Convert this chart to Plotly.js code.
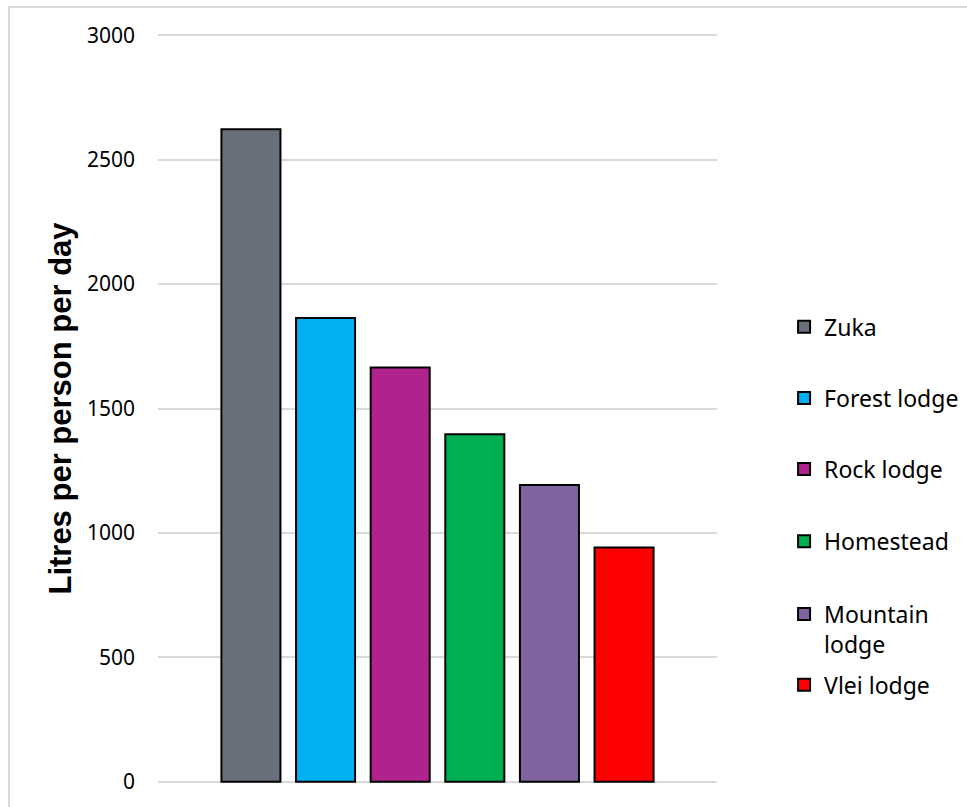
<!DOCTYPE html>
<html>
<head>
<meta charset="utf-8">
<script src="https://cdn.plot.ly/plotly-3.0.1.min.js"></script>
<style>
  html, body { margin: 0; padding: 0; background: #ffffff; overflow: hidden; }
  #wrap { position: relative; width: 967px; height: 807px; }
  #chart { position: absolute; left: 0; top: 0; width: 967px; height: 807px; }
  /* light frame around the chart area */
  #frame { position: absolute; left: 8px; top: 6px; width: 1000px; height: 1000px;
           border: 2px solid #d9d9d9; pointer-events: none; }
</style>
</head>
<body>
<div id="wrap">
  <div id="chart"></div>
  <div id="frame"></div>
</div>
<script>
// Daily water use per person at each lodge
const lodges = ['Zuka', 'Forest lodge', 'Rock lodge', 'Homestead', 'Mountain lodge', 'Vlei lodge'];
const legendLabels = ['Zuka', 'Forest lodge', 'Rock lodge', 'Homestead', 'Mountain<br>lodge', 'Vlei lodge'];
const litresPerPersonPerDay = [2622, 1864, 1665, 1397, 1193, 941];
const barColors = ['#6a707b', '#00b0f0', '#b0238f', '#00b050', '#8064a2', '#ff0000'];
const yTicks = [0, 500, 1000, 1500, 2000, 2500, 3000];

// every lodge is its own series in one shared category slot
const legendIds = ['legend', 'legend2', 'legend3', 'legend4', 'legend5', 'legend6'];
const traces = lodges.map((name, i) => ({
  type: 'bar',
  name: legendLabels[i],
  x: [''],
  y: [litresPerPersonPerDay[i]],
  marker: { color: barColors[i], line: { color: '#000000', width: 2 } },
  legend: legendIds[i],
  hoverinfo: 'skip'
}));

// one small legend per series, stacked down the right side
const legendY = [0.6091, 0.5141, 0.4190, 0.3226, 0.2055, 0.1312];
const legendFont = { family: 'Noto Sans, sans-serif', size: 23, color: '#000000' };
const layout = {
  width: 967,
  height: 807,
  margin: { l: 158, r: 250, t: 34, b: 24, autoexpand: false },
  paper_bgcolor: '#ffffff',
  plot_bgcolor: '#ffffff',
  barmode: 'group',
  bargap: 0.199,
  bargroupgap: 0.209,
  showlegend: true,
  xaxis: {
    showticklabels: false,
    showgrid: false,
    zeroline: false,
    showline: false,
    ticks: ''
  },
  yaxis: {
    // small padding so the 0 and 3000 grid lines are not clipped away
    range: [-5, 3005],
    tickvals: yTicks,
    ticktext: yTicks.map(String),
    showgrid: true,
    gridcolor: '#d9d9d9',
    gridwidth: 2,
    zeroline: false,
    showline: false,
    ticks: '',
    ticklabelstandoff: 22,
    tickfont: { family: 'Noto Sans, sans-serif', size: 21, color: '#000000' },
    title: {
      text: 'Litres per person per day',
      font: { family: 'Liberation Sans, Arial, sans-serif', size: 31, color: '#000000', weight: 'bold' },
      standoff: 6
    },
    fixedrange: true
  }
};
legendIds.forEach((id, i) => {
  layout[id] = {
    x: 1.12,
    xanchor: 'left',
    y: legendY[i],
    yanchor: 'middle',
    valign: 'top',
    font: legendFont,
    bgcolor: 'rgba(0,0,0,0)',
    borderwidth: 0
  };
});

Plotly.newPlot('chart', traces, layout, { displayModeBar: false, staticPlot: true });
</script>
</body>
</html>
